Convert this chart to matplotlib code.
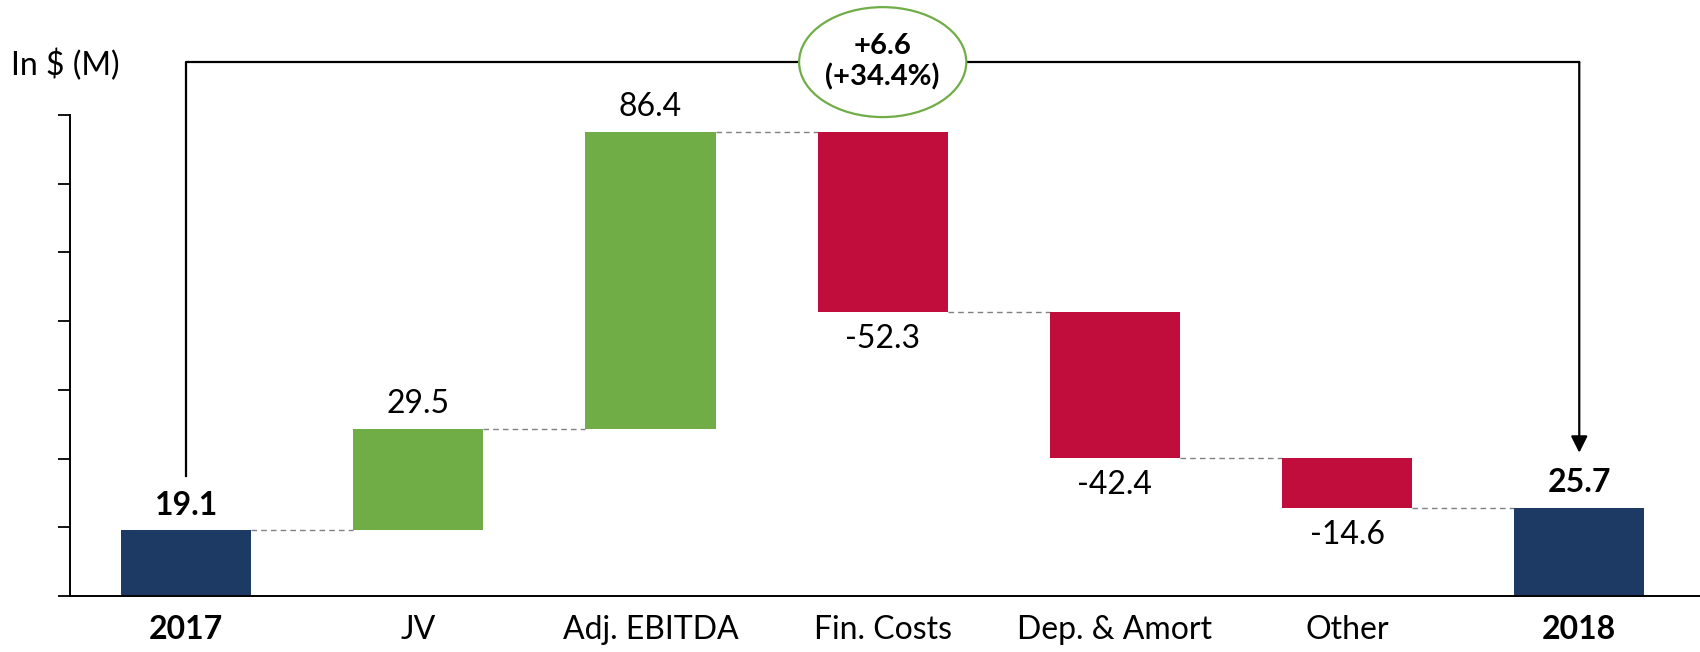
import matplotlib.pyplot as plt
from matplotlib.patches import Ellipse

plt.rcParams['font.family'] = ['Lato', 'DejaVu Sans']

categories = ['2017', 'JV', 'Adj. EBITDA', 'Fin. Costs', 'Dep. & Amort', 'Other', '2018']
values = [19.1, 29.5, 86.4, -52.3, -42.4, -14.6, 25.7]
is_total = [True, False, False, False, False, False, True]
change_text = '+6.6\n(+34.4%)'
unit_label = 'In $ (M)'

navy = '#1C3A64'
green = '#70AD47'
red = '#C00D3C'

fig = plt.figure(figsize=(17, 6.52), dpi=100)
ax = fig.add_axes([0.0412, 0.0859, 0.9588, 0.7377])

width = 0.56
level = 0
for i, v in enumerate(values):
    if is_total[i]:
        b = 0
        h = v
        color = navy
        level = v
    else:
        b = level if v > 0 else level + v
        h = abs(v)
        color = green if v > 0 else red
        level = level + v
    ax.bar(i, h, bottom=b, width=width, color=color, zorder=2)

    if is_total[i]:
        ax.annotate(f'{v:.1f}', (i, b + h), xytext=(0, 18), textcoords='offset points',
                    ha='center', va='center', fontsize=23, fontweight='bold')
    elif v > 0:
        ax.annotate(f'{v:.1f}', (i, b + h), xytext=(0, 18), textcoords='offset points',
                    ha='center', va='center', fontsize=23)
    else:
        ax.annotate(f'{v:.1f}', (i, b), xytext=(0, -19.5), textcoords='offset points',
                    ha='center', va='center', fontsize=23)

# dashed connectors between bars
running = 0
for i, v in enumerate(values[:-1]):
    running = v if is_total[i] else running + v
    ax.plot([i + width / 2, i + 1 - width / 2], [running, running],
            color='#808080', lw=1, ls=(0, (4, 3)), zorder=1)

# bracket from 2017 to 2018
top_y = 155.4
ax.plot([0, 0, len(values) - 1], [34.9, top_y, top_y], color='black', lw=1.6,
        clip_on=False, zorder=3)
ax.annotate('', xy=(len(values) - 1, 41.7), xytext=(len(values) - 1, top_y),
            arrowprops=dict(arrowstyle='-|>,head_length=0.5,head_width=0.25',
                            mutation_scale=20, lw=1.6, color='black',
                            shrinkA=0, shrinkB=0),
            annotation_clip=False, zorder=3)
ell = Ellipse((3, top_y), 0.72, 32, facecolor='white', edgecolor=green, lw=1.6,
              clip_on=False, zorder=4)
ax.add_patch(ell)
ax.text(3, top_y, change_text, ha='center', va='center', fontsize=21,
        fontweight='bold', linespacing=1.2, zorder=5)

ax.set_xlim(-0.5, 6.52)
ax.set_ylim(0, 140)
ax.set_yticks(range(0, 141, 20))
ax.set_yticklabels([])
ax.tick_params(axis='y', direction='out', length=8.5, width=1.3)
ax.set_xticks(range(len(categories)))
ax.set_xticklabels(categories, fontsize=23)
ax.tick_params(axis='x', length=0, pad=14)
for lbl, tot in zip(ax.get_xticklabels(), is_total):
    if tot:
        lbl.set_fontweight('bold')

ax.spines['top'].set_visible(False)
ax.spines['right'].set_visible(False)
ax.spines['left'].set_linewidth(1.4)
ax.spines['bottom'].set_linewidth(1.4)

fig.text(11 / 1700, 1 - 65 / 652, unit_label, ha='left', va='center', fontsize=23)

fig.savefig('out.png', dpi=100)
